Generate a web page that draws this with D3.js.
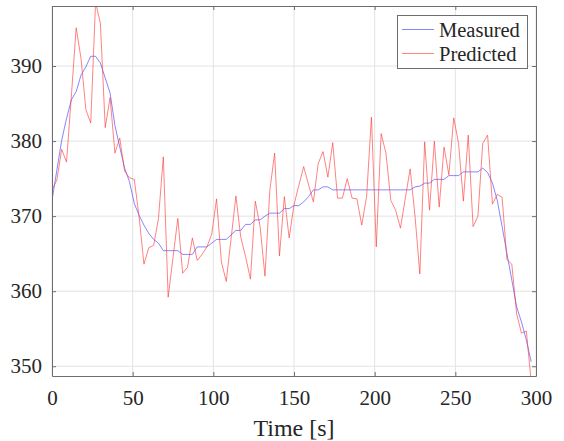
<!DOCTYPE html>
<html>
<head>
<meta charset="utf-8">
<script src="https://cdn.jsdelivr.net/npm/d3@7"></script>
<style>
  body { margin: 0; background: #fff; }
  svg { display: block; }
</style>
</head>
<body>
<div id="chart"></div>
<script>
// sample times [s]
const timeS = [
  0, 3, 6, 9, 12, 15, 18, 21, 24, 27, 30, 33, 36, 39, 42, 45, 48, 51, 54, 57,
  60, 63, 66, 69, 72, 75, 78, 81, 84, 87, 90, 93, 96, 99, 102, 105, 108, 111, 114, 117,
  120, 123, 126, 129, 132, 135, 138, 141, 144, 147, 150, 153, 156, 159, 162, 165, 168, 171, 174, 177,
  180, 183, 186, 189, 192, 195, 198, 201, 204, 207, 210, 213, 216, 219, 222, 225, 228, 231, 234, 237,
  240, 243, 246, 249, 252, 255, 258, 261, 264, 267, 270, 273, 276, 279, 282, 285, 288, 291, 294, 297
];

const measured = [
  372.1, 376.1, 380.1, 383.0, 385.5, 386.6, 388.8, 389.9, 391.3, 391.3,
  390.4, 388.4, 386.4, 382.1, 379.2, 376.4, 374.6, 371.7, 370.1, 368.8,
  367.7, 366.9, 366.4, 365.4, 365.4, 365.4, 365.4, 364.9, 364.9, 364.9,
  365.9, 365.9, 365.9, 366.4, 366.9, 366.9, 366.9, 367.5, 368.1, 368.1,
  368.9, 368.9, 369.5, 369.5, 370.0, 370.4, 370.4, 370.4, 371.0, 371.0,
  371.4, 371.4, 371.9, 372.6, 373.5, 373.5, 373.9, 373.9, 373.5, 373.5,
  373.5, 373.5, 373.5, 373.5, 373.5, 373.5, 373.5, 373.5, 373.5, 373.5,
  373.5, 373.5, 373.5, 373.5, 373.5, 373.9, 374.0, 374.4, 374.4, 374.9,
  374.9, 374.9, 375.4, 375.4, 375.4, 375.9, 375.9, 375.9, 375.9, 376.4,
  375.8, 374.4, 372.1, 368.6, 365.0, 361.5, 357.9, 355.9, 353.5, 350.6
];

const predicted = [
  373.5, 374.8, 378.9, 377.2, 386.0, 395.1, 391.0, 384.2, 382.4, 398.5,
  395.7, 381.8, 385.8, 378.4, 380.4, 376.0, 375.1, 374.9, 369.9, 363.6,
  365.8, 366.1, 369.7, 377.9, 359.2, 364.5, 369.7, 362.4, 363.2, 367.1,
  364.1, 364.9, 365.9, 367.6, 372.3, 363.9, 361.3, 367.0, 372.7, 367.2,
  364.6, 361.6, 372.0, 368.6, 362.0, 373.4, 378.4, 364.7, 372.6, 367.1,
  371.5, 374.1, 376.6, 374.2, 371.9, 377.0, 378.6, 375.2, 379.8, 372.4,
  372.4, 375.0, 372.4, 372.3, 368.8, 372.6, 383.2, 365.9, 381.0, 378.4,
  372.1, 370.8, 368.4, 372.4, 376.3, 370.0, 362.3, 379.9, 370.8, 380.0,
  371.2, 379.2, 375.5, 383.1, 379.7, 372.0, 380.8, 368.6, 370.0, 379.7,
  380.8, 371.6, 372.9, 372.5, 364.2, 363.6, 357.0, 354.4, 354.7, 348.0
];

const xTicks = [0, 50, 100, 150, 200, 250, 300];
const yTicks = [350, 360, 370, 380, 390];
const seriesNames = ["Measured", "Predicted"];
const seriesColors = ["#4040ff", "#ff3a3a"];

const width = 564, height = 441;
const margin = { top: 6, right: 28, bottom: 65, left: 52 };
const serif = "Liberation Serif, serif";

const svg = d3.select("#chart").append("svg")
    .attr("width", width)
    .attr("height", height)
    .attr("font-family", serif);

svg.append("rect").attr("width", width).attr("height", height).attr("fill", "#fff");

const x = d3.scaleLinear().domain([0, 300]).range([margin.left, width - margin.right]);
const y = d3.scaleLinear().domain([348.7, 398]).range([height - margin.bottom, margin.top]);

const plotW = x.range()[1] - x.range()[0];
const plotH = y.range()[0] - y.range()[1];

svg.append("clipPath").attr("id", "plotClip")
  .append("rect")
    .attr("x", margin.left).attr("y", margin.top)
    .attr("width", plotW).attr("height", plotH);

// grid
const grid = svg.append("g").attr("stroke", "#e3e3e3").attr("stroke-width", 1);
grid.selectAll(".gx").data(xTicks).enter().append("line")
    .attr("x1", d => x(d)).attr("x2", d => x(d))
    .attr("y1", y.range()[1]).attr("y2", y.range()[0]);
grid.selectAll(".gy").data(yTicks).enter().append("line")
    .attr("x1", x.range()[0]).attr("x2", x.range()[1])
    .attr("y1", d => y(d)).attr("y2", d => y(d));

// lines: measured first, predicted on top
const rows = timeS.map((t, i) => ({ t, m: measured[i], p: predicted[i] }));
const lines = svg.append("g").attr("clip-path", "url(#plotClip)");

[["m", 0], ["p", 1]].forEach(([key, k]) => {
  lines.append("path")
      .datum(rows)
      .attr("fill", "none")
      .attr("stroke", seriesColors[k])
      .attr("stroke-width", 0.8)
      .attr("stroke-opacity", 0.8)
      .attr("d", d3.line().x(d => x(d.t)).y(d => y(d[key])));
});

// axes
const axisColor = "#6e6e6e";
const fontTick = 21;

const xAxis = svg.append("g")
    .attr("transform", `translate(0,${y.range()[0]})`)
    .call(d3.axisBottom(x).tickValues(xTicks).tickSizeInner(-4).tickSizeOuter(0).tickPadding(14));
const xTop = svg.append("g")
    .attr("transform", `translate(0,${y.range()[1]})`)
    .call(d3.axisTop(x).tickValues(xTicks).tickSizeInner(-4).tickSizeOuter(0).tickFormat(""));
const yAxis = svg.append("g")
    .attr("transform", `translate(${x.range()[0]},0)`)
    .call(d3.axisLeft(y).tickValues(yTicks).tickSizeInner(-4).tickSizeOuter(0).tickPadding(10));
const yRight = svg.append("g")
    .attr("transform", `translate(${x.range()[1]},0)`)
    .call(d3.axisRight(y).tickValues(yTicks).tickSizeInner(-4).tickSizeOuter(0).tickFormat(""));

[xAxis, xTop, yAxis, yRight].forEach(g => {
  g.attr("font-family", serif).attr("font-size", fontTick);
  g.select(".domain").attr("stroke", axisColor);
  g.selectAll(".tick line").attr("stroke", axisColor);
  g.selectAll(".tick text")
      .attr("fill", "#262626")
      .attr("font-family", serif)
      .attr("font-size", fontTick);
});

xAxis.selectAll(".tick text").attr("dy", "0.71em");

svg.append("text")
    .attr("x", (x.range()[0] + x.range()[1]) / 2)
    .attr("y", 436)
    .attr("text-anchor", "middle")
    .attr("font-family", serif)
    .attr("font-size", 24)
    .attr("fill", "#262626")
    .text("Time [s]");

// legend
const legend = svg.append("g");
legend.append("rect")
    .attr("x", 397.5).attr("y", 15.5)
    .attr("width", 130).attr("height", 53)
    .attr("fill", "#fff")
    .attr("stroke", axisColor);

seriesNames.forEach((name, i) => {
  const cy = 29.5 + i * 24;
  legend.append("line")
      .attr("x1", 402).attr("x2", 434)
      .attr("y1", cy).attr("y2", cy)
      .attr("stroke", seriesColors[i])
      .attr("stroke-width", 0.8)
      .attr("stroke-opacity", 0.8);
  legend.append("text")
      .attr("x", 439).attr("y", cy)
      .attr("dy", "0.35em")
      .attr("font-family", serif)
      .attr("font-size", 20.5)
      .attr("fill", "#262626")
      .text(name);
});
</script>
</body>
</html>
